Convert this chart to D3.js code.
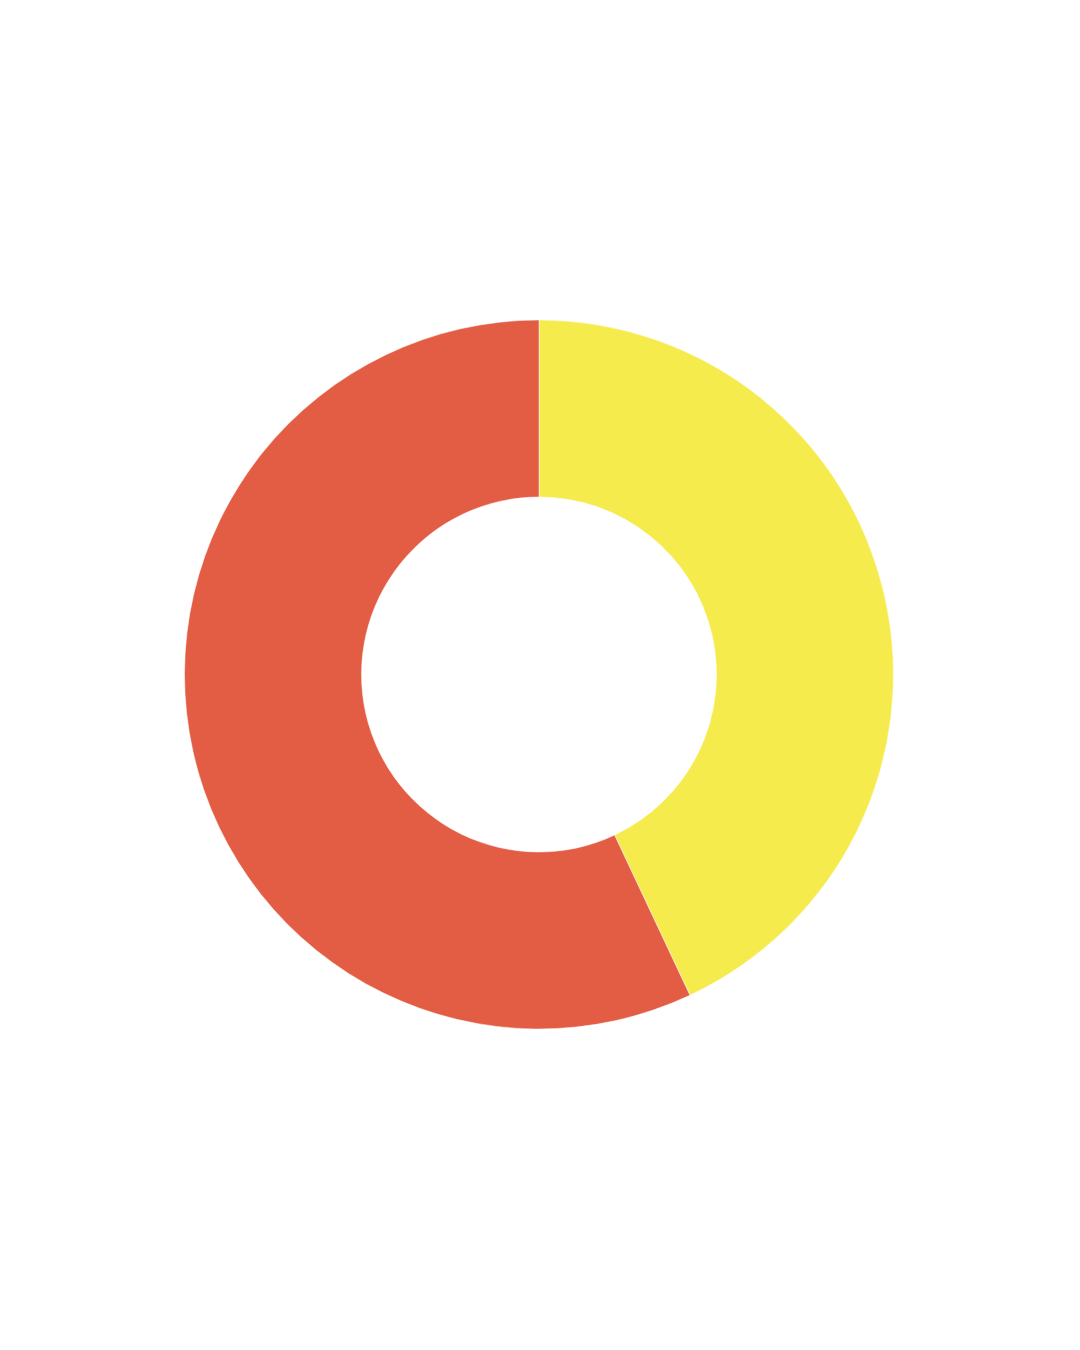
<!DOCTYPE html>
<html>
<head>
<meta charset="utf-8">
<script src="https://cdn.jsdelivr.net/npm/d3@7"></script>
<style>
  body { margin: 0; background: #fff; }
  svg { display: block; }
</style>
</head>
<body>
<svg width="1080" height="1350"></svg>
<script>
// Data
var categories = ["A", "B"];
var values = [43, 57];
var colors = ["#f5eb4d", "#e35d44"];

var outerR = 354.5;
var innerR = 177.5;

var svg = d3.select("svg"),
  width = +svg.attr("width"),
  height = +svg.attr("height"),
  g = svg.append("g").attr("transform", "translate(539,674.5)");

var color = d3.scaleOrdinal().domain(categories).range(colors);

var pie = d3.pie().sort(null).value(function(d, i) { return values[i]; });

var arc = d3.arc()
  .innerRadius(innerR)
  .outerRadius(outerR);

g.selectAll("path")
  .data(pie(categories))
  .enter()
  .append("path")
  .attr("d", arc)
  .attr("fill", function(d) { return color(d.data); })
  .attr("stroke", "#fff")
  .attr("stroke-width", 0.5);
</script>
</body>
</html>
